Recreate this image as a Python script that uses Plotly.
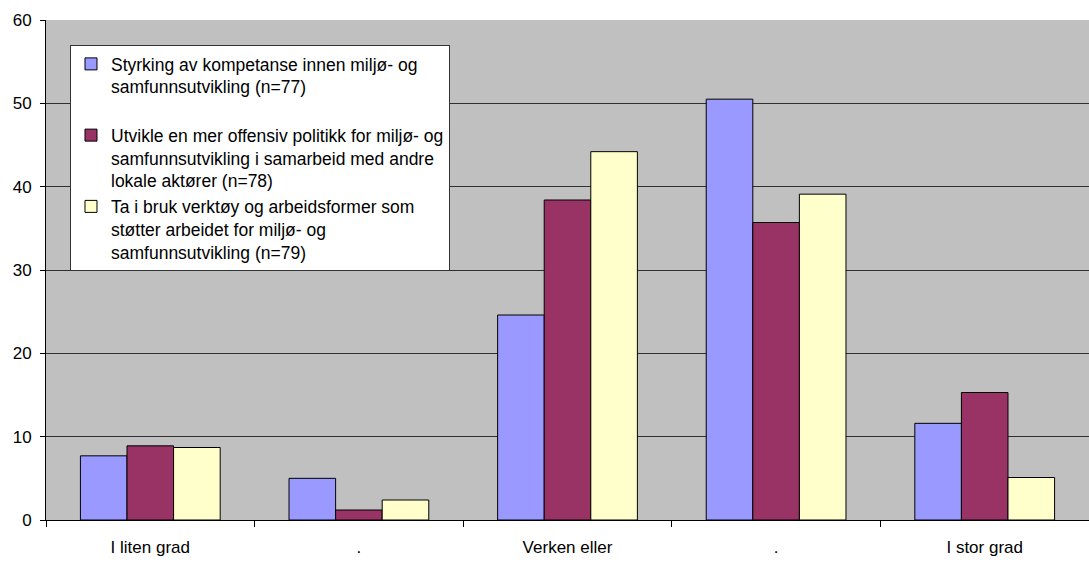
import plotly.graph_objects as go

categories = ["I liten grad", ".", "Verken eller", ". ", "I stor grad"]
tick_labels = ["I liten grad", ".", "Verken eller", ".", "I stor grad"]
series_names = [
    "Styrking av kompetanse innen miljø- og<br>samfunnsutvikling (n=77)<br> ",
    "Utvikle en mer offensiv politikk for miljø- og<br>samfunnsutvikling i samarbeid med andre<br>lokale aktører (n=78)",
    "Ta i bruk verktøy og arbeidsformer som<br>støtter arbeidet for miljø- og<br>samfunnsutvikling (n=79)",
]
s1 = [7.7, 5.0, 24.6, 50.5, 11.6]
s2 = [8.9, 1.2, 38.4, 35.7, 15.3]
s3 = [8.7, 2.4, 44.2, 39.1, 5.1]
colors = ["#9999FF", "#993366", "#FFFFCC"]

fig = go.Figure()
for name, vals, col in zip(series_names, [s1, s2, s3], colors):
    fig.add_trace(go.Bar(
        x=categories, y=vals, name=name,
        marker=dict(color=col, line=dict(color="black", width=1)),
    ))

fig.update_layout(
    width=1089, height=576,
    margin=dict(l=46, r=0, t=20, b=56),
    paper_bgcolor="white",
    plot_bgcolor="#C0C0C0",
    barmode="group",
    bargap=0.33,
    bargroupgap=0,
    font=dict(family="Liberation Sans, Arial, sans-serif", size=17, color="black"),
    showlegend=True,
    legend=dict(
        x=0.023, y=0.95, xanchor="left", yanchor="top",
        bgcolor="white", bordercolor="#333333", borderwidth=1,
        font=dict(size=17.5, color="black"),
        traceorder="normal",
        valign="top",
        itemwidth=30,
    ),
)
fig.update_xaxes(
    type="category",
    tickvals=categories, ticktext=tick_labels,
    showline=True, linecolor="black", linewidth=1,
    ticks="outside", tickson="boundaries", ticklen=6, tickcolor="black",
    ticklabelstandoff=12,
    showgrid=False, mirror=False, automargin=False,
)
fig.update_yaxes(
    range=[0, 60], dtick=10,
    showline=True, linecolor="black", linewidth=1,
    ticks="outside", ticklen=5, tickcolor="black",
    ticklabelstandoff=5,
    showgrid=True, gridcolor="#303030", gridwidth=1,
    zeroline=False, automargin=False,
)

fig.write_html(
    "out.html",
    config={"displayModeBar": False},
    post_script="document.body.style.margin='0px';",
)
